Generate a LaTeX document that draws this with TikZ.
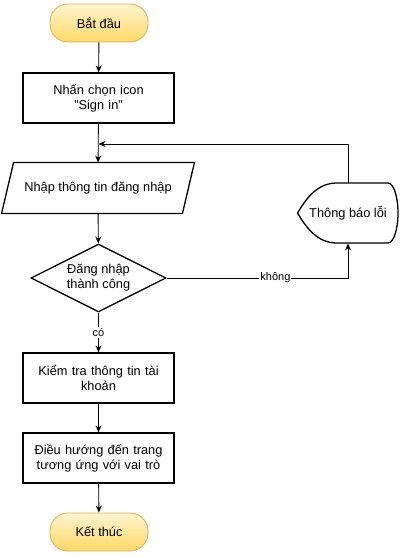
\documentclass[tikz,border=0pt]{standalone}
\usepackage{fontspec}
\setmainfont{Liberation Sans}
\usetikzlibrary{arrows.meta, shapes.geometric}
\definecolor{termtop}{HTML}{FFF4D2}
\definecolor{termbot}{HTML}{FFD966}
\definecolor{termline}{HTML}{D6B656}

\begin{document}
\begin{tikzpicture}[
	x = 1pt, y = -1pt,
	> = {Stealth[length=7pt, width=6pt]}, line width=0.9pt,
	font = \fontsize{12.8}{15}\selectfont,
	term/.style = {rectangle, rounded corners=18pt, draw=termline,
		top color=termtop, bottom color=termbot,
		minimum width=98pt, minimum height=38pt, inner sep=0pt},
	proc/.style = {rectangle, draw, line width=1.3pt,
		minimum width=151pt, minimum height=50pt,
		text width=145pt, align=center, inner sep=0pt},
	io/.style = {rectangle, minimum width=180pt, minimum height=50pt, inner sep=0pt},
	dec/.style = {diamond, draw, line width=1.3pt, aspect=2,
		minimum width=135pt, minimum height=68pt,
		align=center, inner sep=0pt},
	lbl/.style = {fill=white, inner sep=1pt, font=\fontsize{11}{13}\selectfont},
	]
	\useasboundingbox (0,0) rectangle (402,557);
	\node[term] (start) at (99,23) {Bắt đầu};
	\node[proc] (click) at (98.5,98) {Nhấn chọn icon\\"Sign in"};
	\node[io]   (input) at (98,188) {Nhập thông tin đăng nhập};
	\node[dec]  (check) at (98.5,278) {Đăng nhập\\thành công};
	\node[proc] (verify) at (98.5,378) {Kiểm tra thông tin tài\\khoản};
	\node[proc] (route) at (98.5,458) {Điều hướng đến trang\\tương ứng với vai trò};
	\node[term] (stop) at (99,532) {Kết thúc};
	% parallelogram
	\draw[line width=1.3pt] ([xshift=-6pt]input.south west) -- ([xshift=6pt]input.north west)
		-- ([xshift=6pt]input.north east) -- ([xshift=-6pt]input.south east) -- cycle;
	% display shape
	\node[minimum width=100pt, minimum height=60pt, inner sep=0pt] (err) at (348,213) {Thông báo lỗi};
	\draw[line width=1.3pt] (err.west) .. controls (307,197) and (318,183) .. (337,183) -- (388,183)
		arc[start angle=-90, end angle=90, x radius=10, y radius=30]
		-- (337,243) .. controls (318,243) and (307,229) .. (err.west) -- cycle;
	\coordinate (join) at (98.5,144);
	% connectors
	\draw[->] (start) -- (click);
	\draw[->] (click) -- (input);
	\draw[->] (err.north) |- (join);
	\draw[->] (input) -- (check);
	\draw[->] (check.east) -| node[lbl, pos=0.3] {không} (err.south);
	\draw[->] (check) -- node[lbl] {có} (verify);
	\draw[->] (verify) -- (route);
	\draw[->] (route) -- (stop);
\end{tikzpicture}
\end{document}
